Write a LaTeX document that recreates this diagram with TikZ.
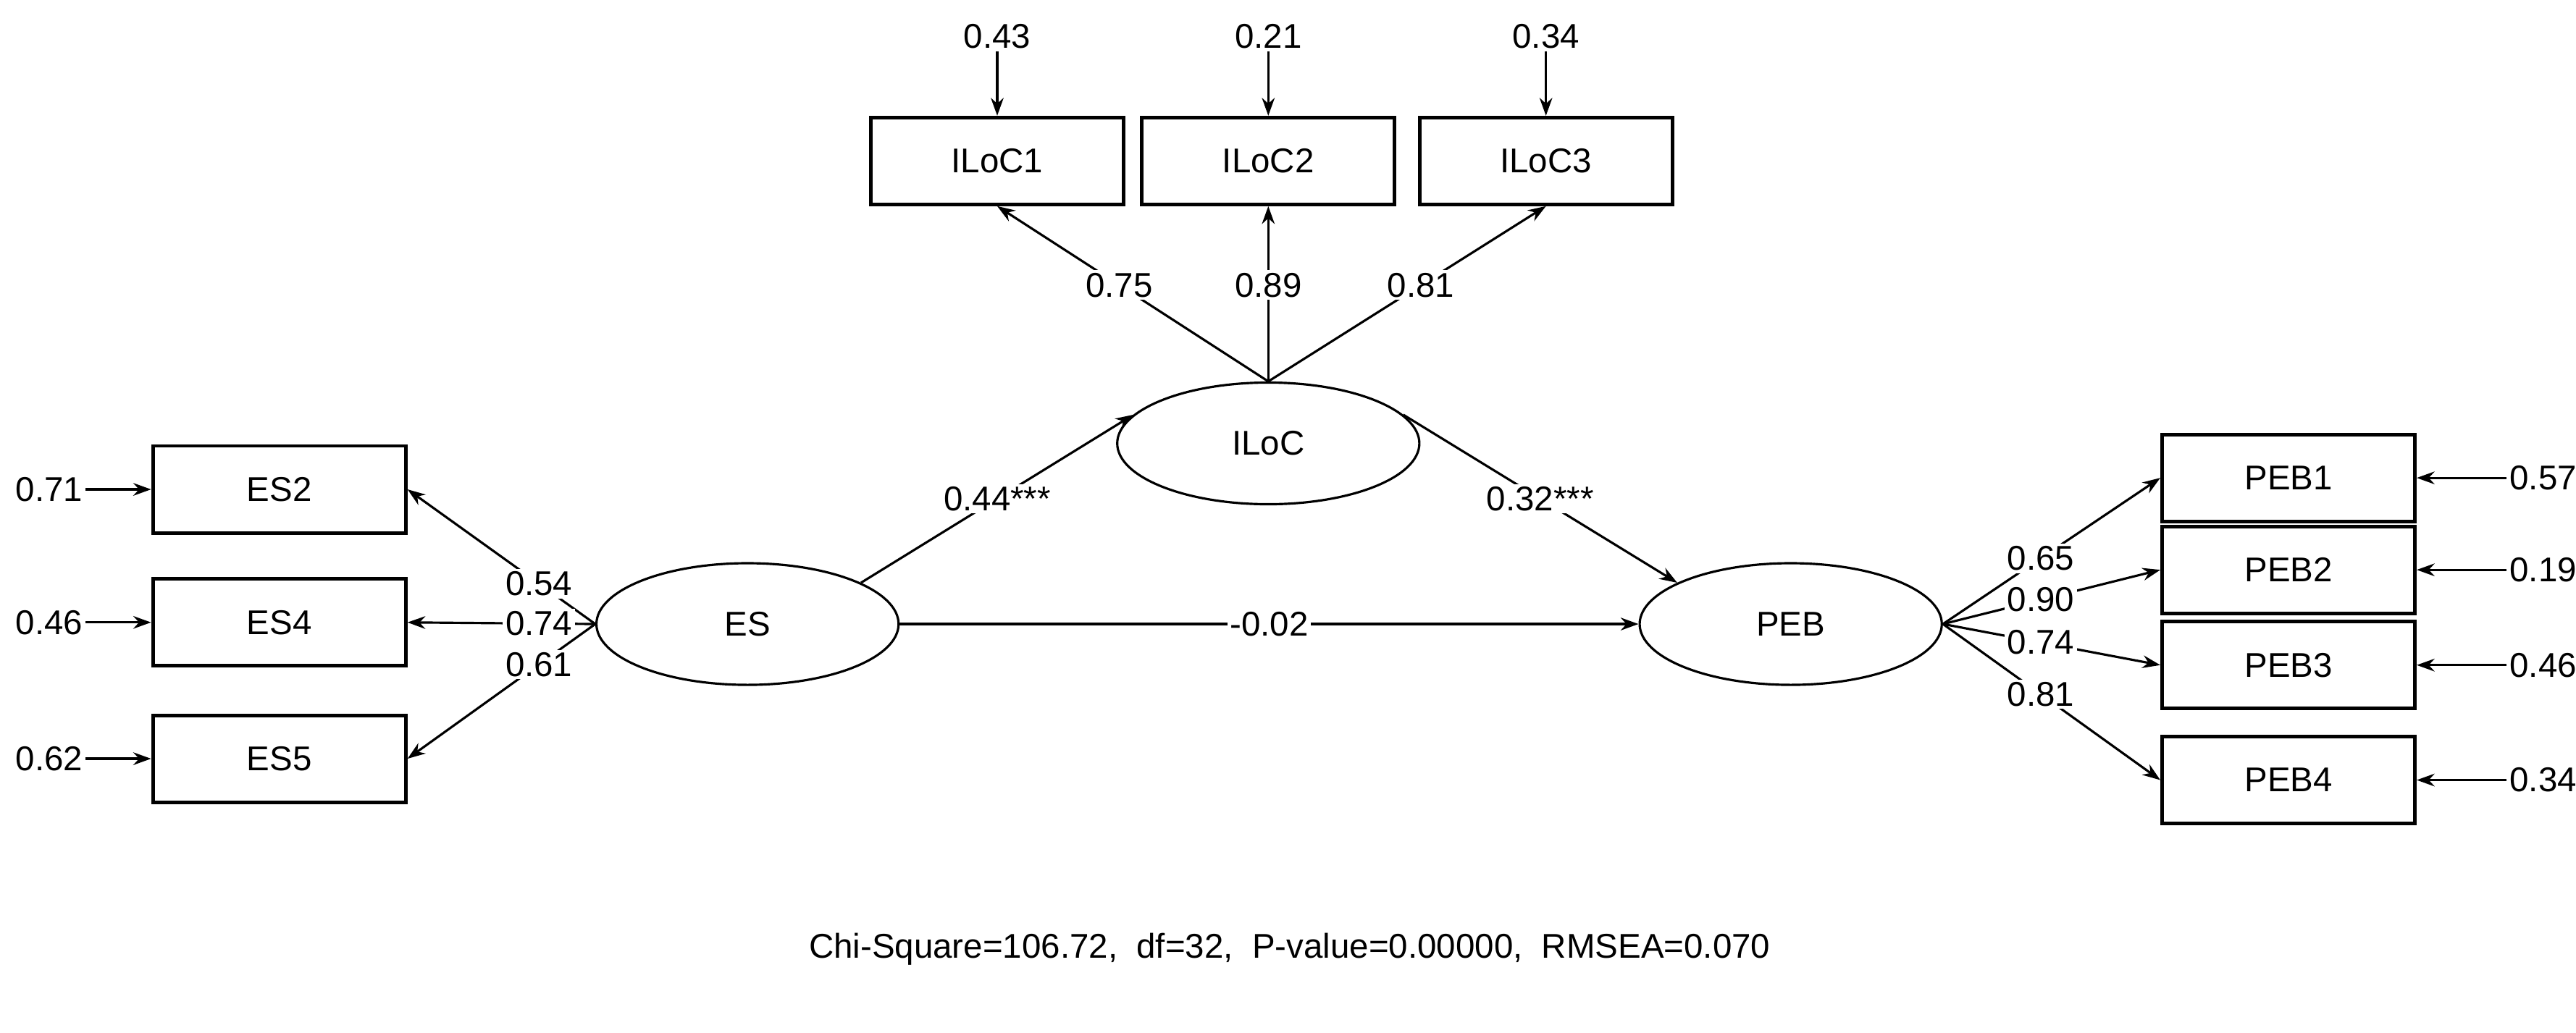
\documentclass[tikz,border=0pt]{standalone}
\usepackage{fontspec}
\setmainfont{Liberation Sans}
\usetikzlibrary{shapes.geometric,arrows.meta}
\begin{document}
\begin{tikzpicture}[
    x=0.02268cm, y=-0.02268cm,
    every node/.style={font=\fontsize{13.5}{15}\selectfont},
    obs/.style={rectangle, draw=black, line width=1.4pt, minimum width=3.49cm, minimum height=1.2cm},
    lat/.style={ellipse, draw=black, line width=0.9pt, minimum width=4.17cm, minimum height=1.68cm},
    err/.style={inner sep=1pt},
    arrow/.style={-{Stealth[length=7pt,width=5pt]}, line width=0.9pt},
    coef/.style={fill=white, inner sep=1pt}
]
    \useasboundingbox (0,0) rectangle (1568,629);
    % latent variables
    \node[lat] (iloc) at (772,270) {ILoC};
    \node[lat] (es) at (455,380) {ES};
    \node[lat] (peb) at (1090,380) {PEB};
    % ILoC indicators
    \node[obs] (iloc1) at (607,98) {ILoC1};
    \node[obs] (iloc2) at (772,98) {ILoC2};
    \node[obs] (iloc3) at (941,98) {ILoC3};
    \node[err] (e1) at (607,22) {0.43};
    \node[err] (e2) at (772,22) {0.21};
    \node[err] (e3) at (941,22) {0.34};
    % ES indicators
    \node[obs] (es2) at (170,298) {ES2};
    \node[obs] (es4) at (170,379) {ES4};
    \node[obs] (es5) at (170,462) {ES5};
    \node[err] (e4) at (30,298) {0.71};
    \node[err] (e5) at (30,379) {0.46};
    \node[err] (e6) at (30,462) {0.62};
    % PEB indicators
    \node[obs] (peb1) at (1393,291) {PEB1};
    \node[obs] (peb2) at (1393,347) {PEB2};
    \node[obs] (peb3) at (1393,405) {PEB3};
    \node[obs] (peb4) at (1393,475) {PEB4};
    \node[err] (e7) at (1548,291) {0.57};
    \node[err] (e8) at (1548,347) {0.19};
    \node[err] (e9) at (1548,405) {0.46};
    \node[err] (e10) at (1548,475) {0.34};

    \foreach \e/\b in {e1/iloc1, e2/iloc2, e3/iloc3}
        \draw[arrow] (\e) -- (\b);
    \foreach \e/\b in {e4/es2, e5/es4, e6/es5}
        \draw[arrow] (\e) -- (\b);
    \foreach \e/\b in {e7/peb1, e8/peb2, e9/peb3, e10/peb4}
        \draw[arrow] (\e) -- (\b);

    \draw[arrow] (iloc.north) -- node[coef, pos=0.55] {0.75} (iloc1.south);
    \draw[arrow] (iloc.north) -- node[coef, pos=0.55] {0.89} (iloc2.south);
    \draw[arrow] (iloc.north) -- node[coef, pos=0.55] {0.81} (iloc3.south);

    \draw[arrow] (es.west) -- node[coef, pos=0.3] {0.54} (es2.east);
    \draw[arrow] (es.west) -- node[coef, pos=0.3] {0.74} (es4.east);
    \draw[arrow] (es.west) -- node[coef, pos=0.3] {0.61} (es5.east);

    \draw[arrow] (peb.east) -- node[coef, pos=0.45] {0.65} (peb1.west);
    \draw[arrow] (peb.east) -- node[coef, pos=0.45] {0.90} (peb2.west);
    \draw[arrow] (peb.east) -- node[coef, pos=0.45] {0.74} (peb3.west);
    \draw[arrow] (peb.east) -- node[coef, pos=0.45] {0.81} (peb4.west);

    \draw[arrow] (es.20) -- node[coef, pos=0.5] {0.44***} (iloc.168);
    \draw[arrow] (iloc.12) -- node[coef, pos=0.5] {0.32***} (peb.160);
    \draw[arrow] (es) -- node[coef] {-0.02} (peb);

    \node (fit) at (785,578) {Chi-Square=106.72,\ \ df=32,\ \ P-value=0.00000,\ \ RMSEA=0.070};
\end{tikzpicture}
\end{document}
